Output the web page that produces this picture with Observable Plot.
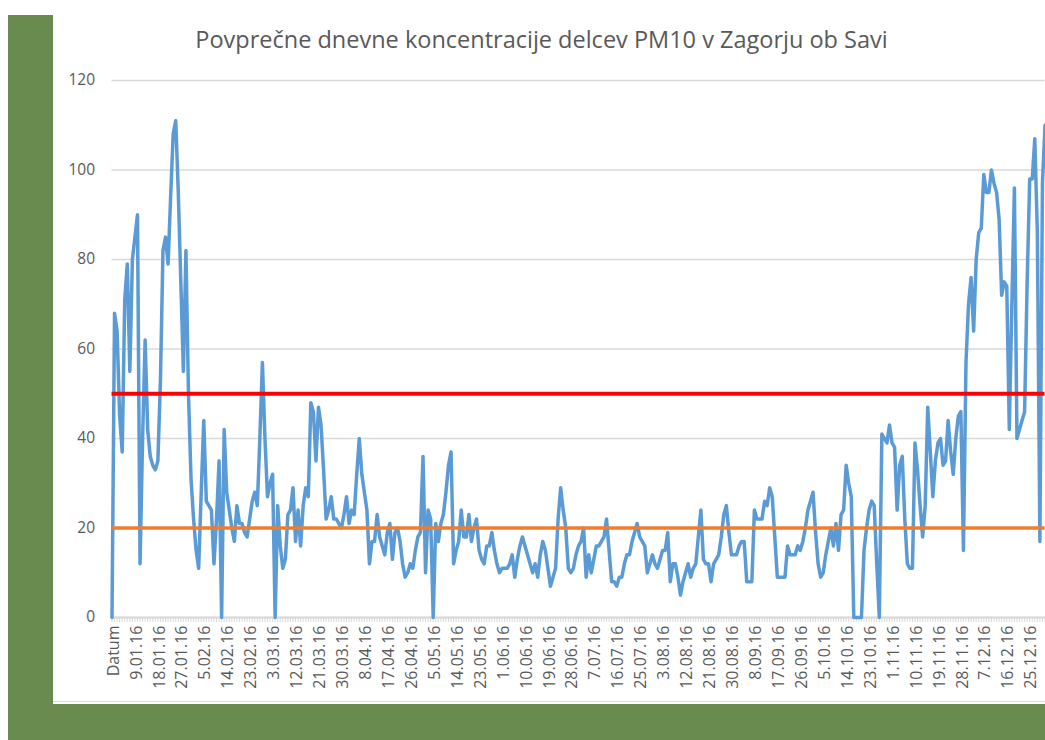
<!DOCTYPE html>
<html><head><meta charset="utf-8">
<script src="https://cdn.jsdelivr.net/npm/d3@7"></script>
<script src="https://cdn.jsdelivr.net/npm/@observablehq/plot@0.6"></script>
<style>
html,body{margin:0;padding:0;background:#fff;overflow:hidden;width:1045px;height:740px;}
.green{position:absolute;background:#6a8b50;}
#title{position:absolute;left:541.5px;top:28px;transform:translateX(-50%);white-space:nowrap;font-family:"Open Sans",sans-serif;font-size:23.5px;line-height:1;color:#595959;}
#chart{position:absolute;left:53px;top:60px;}
#border{position:absolute;left:53px;top:701px;width:992px;height:1px;background:#d9d9d9;}
</style></head><body>
<div class="green" style="left:8px;top:15px;width:45px;height:725px"></div>
<div class="green" style="left:8px;top:704px;width:1037px;height:36px"></div>
<div id="border"></div>
<div id="title">Povprečne dnevne koncentracije delcev PM10 v Zagorju ob Savi</div>
<div id="chart"></div>
<script>
// Category 0 is the header cell "Datum", followed by daily values of 2016
const datumValue = [0];
const jan = [68,64,45,37,71,79,55,80,85,90,12,40,62,42,36,34,33,35,53,82,85,79,94,108,111,95,75,55,82,50,31];
const feb = [22,15,11,28,44,26,25,24,12,22,35,0,42,28,24,20,17,25,21,21,19,18,22,26,28,25,40,57,40];
const mar = [27,30,32,0,25,16,11,13,23,24,29,17,24,16,25,29,27,48,46,35,47,43,33,22,24,27,22,22,21,20,23];
const apr = [27,21,24,23,32,40,32,28,24,12,17,17,23,18,16,14,19,21,13,19,20,17,12,9,10,12,11,15,18,19];
const may = [36,10,24,22,0,21,17,21,23,28,34,37,12,15,17,24,18,18,23,17,20,22,15,13,12,16,16,19,15,12,10];
const jun = [11,11,11,12,14,9,13,16,18,16,14,12,10,12,9,14,17,15,11,7,9,11,22,29,24,20,11,10,11,14];
const jul = [16,17,20,9,14,10,13,16,16,17,18,22,15,8,8,7,9,9,12,14,14,17,19,21,18,17,16,10,12,14,12];
const aug = [11,13,15,15,19,8,12,12,9,5,8,10,12,9,11,12,18,24,13,12,12,8,12,13,14,18,23,25,19,14,14];
const sep = [14,16,17,17,8,8,8,24,22,22,22,26,25,29,27,18,9,9,9,9,16,14,14,14,16,15,17,20,24,26];
const oct = [28,19,12,9,10,14,17,20,16,21,15,23,24,34,30,27,0,0,0,0,15,20,24,26,25,12,0,41,40,39,43];
const nov = [39,38,24,34,36,22,12,11,11,39,33,25,18,25,47,37,27,35,39,40,34,35,44,37,32,40,45,46,15,57];
const dec = [70,76,64,80,86,87,99,95,95,100,97,95,89,72,75,74,42,70,96,40,42,44,46,75,98,98,107,86,17,97,110];

// tick labels shown on the category axis (every 9th category)
const tickLabels = ["Datum","9.01.16","18.01.16","27.01.16","5.02.16","14.02.16","23.02.16","3.03.16","12.03.16","21.03.16","30.03.16","8.04.16","17.04.16","26.04.16","5.05.16","14.05.16","23.05.16","1.06.16","10.06.16","19.06.16","28.06.16","7.07.16","16.07.16","25.07.16","3.08.16","12.08.16","21.08.16","30.08.16","8.09.16","17.09.16","26.09.16","5.10.16","14.10.16","23.10.16","1.11.16","10.11.16","19.11.16","28.11.16","7.12.16","16.12.16","25.12.16"];
const labelStep = 9;
const yTicks = [0,20,40,60,80,100,120];
const limitValue = [50];
const guideValue = [20];

const values = [].concat(datumValue, jan, feb, mar, apr, may, jun, jul, aug, sep, oct, nov, dec);
const data = values.map((v, i) => ({i, v}));
const allCats = d3.range(values.length);
const labelIdx = tickLabels.map((_, k) => k * labelStep);
const labelOf = new Map(labelIdx.map((d, k) => [d, tickLabels[k]]));

const chart = Plot.plot({
  width: 992,
  height: 644,
  marginLeft: 58.5,
  marginRight: 0.5,
  marginTop: 20,
  marginBottom: 87,
  x: {type: "linear", domain: [0, values.length - 1]},
  y: {domain: [0, 120]},
  style: {fontFamily: "'Open Sans', sans-serif", fontSize: "15.5px", color: "#595959", background: "transparent"},
  marks: [
    Plot.gridY({ticks: yTicks, stroke: "#d9d9d9", strokeOpacity: 1, strokeWidth: 1.3}),
    Plot.axisY({ticks: yTicks, tickSize: 0, tickPadding: 17, fill: "#595959", fontSize: 15.5, label: null}),
    Plot.axisX({ticks: allCats, tickSize: 5, tickFormat: () => "", stroke: "#d9d9d9", strokeOpacity: 1, strokeWidth: 1, label: null}),
    Plot.ruleY([0], {stroke: "#d9d9d9", strokeWidth: 2}),
    Plot.axisX({ticks: labelIdx, tickFormat: d => labelOf.get(d), tickSize: 0, tickPadding: 8, tickRotate: -90, dx: 1.5, fill: "#595959", fontSize: 16, label: null}),
    Plot.line(data, {x: "i", y: "v", stroke: "#5b9bd5", strokeWidth: 3.5, strokeLinejoin: "round", strokeLinecap: "round"}),
    Plot.ruleY(limitValue, {stroke: "#ff0000", strokeWidth: 4}),
    Plot.ruleY(guideValue, {stroke: "#ed7d31", strokeWidth: 3.5})
  ]
});
document.getElementById("chart").appendChild(chart);
</script>
</body></html>
